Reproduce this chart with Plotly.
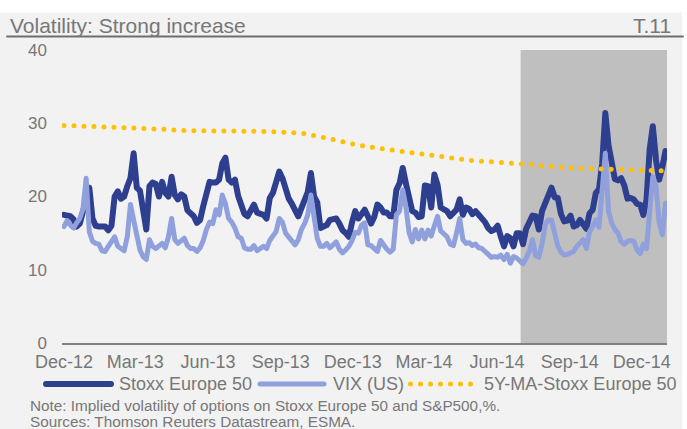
import pandas as pd
import plotly.graph_objects as go

# Implied volatility, sampled every 4 days from 1 Dec 2012 to 31 Dec 2014
start_date = "2012-12-01"
stoxx = [
    17.5, 17.4, 17.3, 16.9, 15.9, 16.3, 17.8, 19.5, 21.2, 17.0, 16.0, 15.9, 16.0, 15.9, 15.4, 16.0,
    20.0, 20.7, 19.7, 20.0, 21.4, 22.5, 25.9, 21.2, 20.8, 17.5, 15.5, 21.4, 21.9, 21.7, 20.0, 22.0,
    20.5, 20.0, 22.7, 20.2, 19.6, 20.3, 20.0, 18.1, 17.7, 17.3, 16.4, 16.8, 18.7, 20.3, 22.0, 21.9,
    21.9, 22.3, 24.5, 25.3, 22.3, 21.9, 22.3, 20.1, 18.8, 17.6, 17.3, 18.3, 18.9, 17.8, 17.7, 17.5,
    17.0, 19.8, 20.5, 22.3, 23.4, 22.5, 21.0, 19.7, 19.0, 18.2, 17.3, 18.4, 19.8, 20.6, 23.2, 20.0,
    19.2, 15.7, 15.9, 16.1, 16.8, 17.0, 17.0, 16.3, 15.4, 15.0, 14.5, 16.5, 18.0, 17.0, 17.8, 18.2,
    17.3, 16.3, 17.2, 18.9, 18.5, 17.8, 17.8, 17.3, 17.3, 20.9, 21.8, 23.9, 21.8, 19.4, 18.0, 17.8,
    17.2, 17.3, 21.5, 21.4, 18.5, 23.0, 21.6, 18.5, 18.2, 18.0, 17.3, 17.8, 18.2, 19.6, 17.5,
    18.5, 18.3, 17.6, 18.0, 17.5, 17.1, 16.5, 15.7, 15.3, 15.5, 16.0, 14.5, 13.2, 14.6, 14.3, 13.2,
    15.0, 15.0, 13.5, 15.6, 16.4, 17.4, 17.3, 15.5, 18.0, 19.0, 20.3, 21.2, 19.9, 19.8, 17.6, 16.6,
    16.7, 17.4, 15.9, 16.1, 16.8, 16.1, 15.6, 17.7, 18.2, 20.5, 21.0, 24.5, 31.4, 27.0, 24.1, 22.4,
    22.2, 22.5, 21.5, 19.7, 19.8, 19.6, 19.0, 18.9, 17.5, 19.5, 26.4, 29.6, 25.0, 22.3, 24.0, 26.2,
]
vix = [
    15.9, 16.7, 16.1, 15.7, 16.4, 17.0, 18.3, 22.5, 15.2, 13.9, 13.6, 13.5, 12.6, 12.5, 13.2, 13.9,
    14.5, 13.2, 12.9, 12.6, 14.5, 18.9, 16.8, 14.3, 12.7, 11.8, 11.4, 14.1, 13.2, 12.9, 13.2, 13.6,
    13.0, 14.5, 17.0, 14.1, 13.6, 14.0, 14.3, 13.3, 12.9, 12.9, 12.5, 13.0, 14.0, 15.5, 16.5, 16.3,
    18.2, 17.5, 20.2, 19.0, 17.0, 16.5, 15.7, 14.5, 14.3, 13.0, 12.8, 12.8, 13.3, 12.6, 13.0, 13.2,
    12.9, 14.0, 14.6, 15.2, 17.0, 16.5, 15.0, 14.4, 14.0, 13.4, 14.1, 15.5, 16.3, 17.5, 20.2, 17.3,
    14.3, 13.2, 13.2, 13.6, 13.0, 13.4, 13.8, 12.8, 12.3, 12.7, 13.2, 14.0, 15.1, 15.0, 16.1, 16.4,
    13.4, 13.3, 12.9, 12.5, 14.0, 13.3, 12.8, 12.4, 12.8, 17.5, 18.0, 20.9, 18.6, 15.1, 13.8, 15.5,
    14.2, 15.4, 14.2, 15.4, 14.6, 16.0, 17.3, 15.3, 15.0, 14.5, 13.5, 13.3, 15.0, 17.0, 14.1,
    13.6, 13.7, 13.3, 13.5, 13.0, 12.9, 12.6, 12.1, 11.7, 11.8, 11.7, 12.0, 11.4, 12.1, 10.9, 11.8,
    11.6, 11.3, 10.8, 11.6, 12.5, 14.1, 11.9, 11.7, 13.5, 16.2, 16.8, 16.8, 15.2, 13.2, 12.4, 12.0,
    12.1, 12.3, 12.5, 13.2, 13.6, 14.1, 12.9, 15.2, 15.9, 16.8, 15.8, 21.5, 25.9, 18.0, 16.4, 15.5,
    15.0, 13.8, 13.5, 13.9, 14.0, 13.9, 12.7, 12.2, 13.5, 12.9, 18.7, 22.7, 21.5, 16.4, 14.8, 19.1,
]

# 5-year moving average of Stoxx Europe 50 volatility (monthly readings)
ma_dates = [
    "2012-12-01", "2013-01-01", "2013-02-01", "2013-03-01", "2013-04-01", "2013-05-01",
    "2013-06-01", "2013-07-01", "2013-08-01", "2013-09-01", "2013-10-01", "2013-11-01",
    "2013-12-01", "2014-01-01", "2014-02-01", "2014-03-01", "2014-04-01", "2014-05-01",
    "2014-06-01", "2014-07-01", "2014-08-01", "2014-09-01", "2014-10-01", "2014-11-01",
    "2014-12-01", "2014-12-31",
]
ma_5y = [
    29.7, 29.6, 29.5, 29.4, 29.2, 29.0, 29.0, 28.9, 28.9, 28.8, 28.6, 27.9,
    27.15, 26.6, 26.2, 25.8, 25.3, 24.9, 24.7, 24.4, 24.1, 23.9, 23.8, 23.7,
    23.6, 23.5,
]

tick_dates = ["2012-12-01", "2013-03-01", "2013-06-01", "2013-09-01", "2013-12-01",
              "2014-03-01", "2014-06-01", "2014-09-01", "2014-12-01"]
tick_text = ["Dec-12", "Mar-13", "Jun-13", "Sep-13", "Dec-13",
             "Mar-14", "Jun-14", "Sep-14", "Dec-14"]

period_start = "2014-07-01"
x_range = ["2012-11-28 12:00", "2015-01-01 22:00"]

dates = pd.date_range(start_date, periods=len(stoxx), freq="4D")

DARK = "#2d3f8e"
LIGHT = "#8fa0dd"
GOLD = "#ffc000"
TXT = "#777777"
FONT = "Liberation Sans, Arial, sans-serif"
DOTS = "0px,10px"  # zero-length dashes + round caps -> round dots

W, H = 687, 429
L, R, T, B = 62, 20, 50, 86


def px(x):
    return (x - L) / (W - L - R)


def py(y):
    return (H - B - y) / (H - T - B)


fig = go.Figure()
fig.add_trace(go.Scatter(x=dates, y=stoxx, mode="lines", name="Stoxx Europe 50",
                         line={"color": DARK, "width": 6}))
fig.add_trace(go.Scatter(x=dates, y=vix, mode="lines", name="VIX (US)",
                         line={"color": LIGHT, "width": 5}))
fig.add_trace(go.Scatter(x=ma_dates, y=ma_5y, mode="lines", name="5Y-MA-Stoxx Europe 50",
                         line={"color": GOLD, "width": 5, "dash": DOTS}))

shapes = [
    # grey panel
    dict(type="rect", xref="paper", yref="paper", x0=px(0), x1=px(682), y0=py(12.5), y1=py(429),
         fillcolor="#f2f2f2", line_width=0, layer="below"),
    # title underline
    dict(type="line", xref="paper", yref="paper", x0=px(7), x1=px(683), y0=py(36.5), y1=py(36.5),
         line={"color": "#6e6e6e", "width": 2}),
    # shaded period
    dict(type="rect", xref="x", yref="y", x0=period_start, x1=x_range[1], y0=0, y1=40,
         fillcolor="#bfbfbf", line_width=0, layer="below"),
    # legend keys
    dict(type="line", xref="paper", yref="paper", x0=px(46), x1=px(111), y0=py(384), y1=py(384),
         line={"color": DARK, "width": 6}),
    dict(type="line", xref="paper", yref="paper", x0=px(260), x1=px(324), y0=py(384), y1=py(384),
         line={"color": LIGHT, "width": 5}),
    dict(type="line", xref="paper", yref="paper", x0=px(410.5), x1=px(471), y0=py(384), y1=py(384),
         line={"color": GOLD, "width": 5, "dash": DOTS}),
]

annotations = [
    dict(text="Volatility: Strong increase", x=px(8), y=py(25), xanchor="left", yanchor="middle",
         font={"size": 21, "color": TXT}),
    dict(text="T.11", x=px(673), y=py(25), xanchor="right", yanchor="middle",
         font={"size": 21, "color": TXT}),
    dict(text="Stoxx Europe 50", x=px(117), y=py(384), xanchor="left", yanchor="middle",
         font={"size": 18, "color": TXT}),
    dict(text="VIX (US)", x=px(331), y=py(384), xanchor="left", yanchor="middle",
         font={"size": 18, "color": TXT}),
    dict(text="5Y-MA-Stoxx Europe 50", x=px(482), y=py(384), xanchor="left", yanchor="middle",
         font={"size": 18, "color": TXT}),
    dict(text="Note: Implied volatility of options on Stoxx Europe 50 and S&P500,%.", x=px(28),
         y=py(405), xanchor="left", yanchor="middle", font={"size": 15.3, "color": TXT}),
    dict(text="Sources: Thomson Reuters Datastream, ESMA.", x=px(28),
         y=py(421), xanchor="left", yanchor="middle", font={"size": 15.3, "color": TXT}),
]
for a in annotations:
    a.update(xref="paper", yref="paper", showarrow=False)

fig.update_layout(
    width=W,
    height=H,
    margin={"l": L, "r": R, "t": T, "b": B, "pad": 0},
    paper_bgcolor="white",
    plot_bgcolor="rgba(0,0,0,0)",
    font={"family": FONT, "color": TXT, "size": 18},
    showlegend=False,
    shapes=shapes,
    annotations=annotations,
    xaxis={
        "type": "date",
        "range": x_range,
        "tickvals": tick_dates,
        "ticktext": tick_text,
        "showgrid": False,
        "zeroline": False,
        "showline": True,
        "linecolor": "#808080",
        "linewidth": 2,
        "ticks": "",
        "ticklabelstandoff": 1,
        "tickfont": {"size": 18, "color": TXT},
    },
    yaxis={
        "range": [0, 40],
        "tickvals": [0, 10, 20, 30, 40],
        "showgrid": False,
        "zeroline": False,
        "showline": False,
        "ticks": "",
        "ticklabelstandoff": 14,
        "tickfont": {"size": 17, "color": TXT},
    },
)

# page without the default body margin; round caps turn the zero-length dashes into dots
page_js = (
    "document.body.style.margin='0';document.body.style.overflow='hidden';"
    "var s=document.createElement('style');"
    "s.textContent='.scatterlayer .js-line,.shapelayer path{stroke-linecap:round;stroke-linejoin:round}';"
    "document.head.appendChild(s);"
)
fig.write_html("out.html", post_script=page_js, config={"displayModeBar": False})
